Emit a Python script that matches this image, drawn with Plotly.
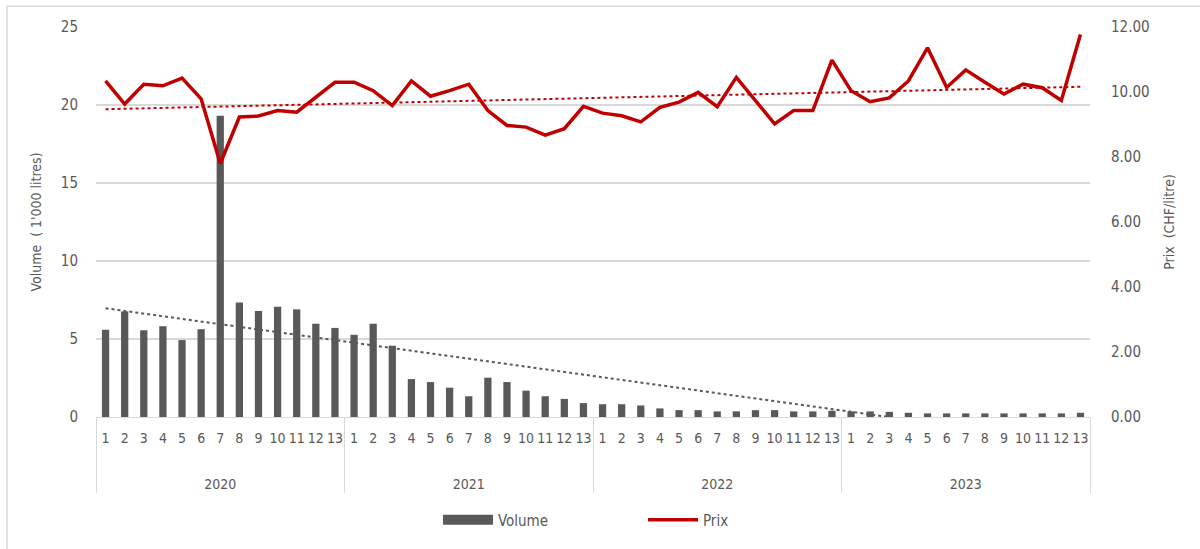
import numpy as np
import plotly.graph_objects as go

years = ["2020", "2021", "2022", "2023"]
months = [str(m) for m in range(1, 14)]

volume = [
    5.60, 6.77, 5.56, 5.82, 4.93, 5.63, 19.31, 7.34, 6.79, 7.06, 6.90, 5.98, 5.71,
    5.27, 5.98, 4.57, 2.43, 2.24, 1.88, 1.33, 2.52, 2.24, 1.69, 1.33, 1.16, 0.89,
    0.82, 0.82, 0.74, 0.55, 0.44, 0.44, 0.36, 0.36, 0.44, 0.44, 0.36, 0.36, 0.40,
    0.36, 0.36, 0.33, 0.27, 0.23, 0.23, 0.23, 0.23, 0.23, 0.23, 0.23, 0.23, 0.27,
]
prix = [
    10.34, 9.63, 10.24, 10.19, 10.43, 9.79, 7.80, 9.23, 9.26, 9.43, 9.38, 9.84, 10.30,
    10.30, 10.04, 9.58, 10.34, 9.87, 10.04, 10.24, 9.43, 8.97, 8.92, 8.67, 8.87, 9.56,
    9.35, 9.27, 9.08, 9.53, 9.69, 9.99, 9.55, 10.45, 9.74, 9.02, 9.43, 9.43, 10.98,
    10.04, 9.70, 9.82, 10.34, 11.36, 10.14, 10.68, 10.30, 9.94, 10.24, 10.13, 9.74, 11.77,
]

# year labels pushed down to leave room below the month row
year_labels = ["\u00a0<br>\u00a0<br>" + y for y in years]
x_year = [y for y in year_labels for _ in months]
x_month = [m for _ in years for m in months]
xcat = [x_year, x_month]

idx = np.arange(len(volume))
vol_fit = np.polyval(np.polyfit(idx, volume, 1), idx)
prix_fit = np.polyval(np.polyfit(idx, prix, 1), idx)

FONT = "DejaVu Sans Condensed, Liberation Sans Narrow, sans-serif"
GREY = "#595959"
RED = "#C00000"
GRID = "#d9d9d9"

W, H = 1200, 549
L, R, T, B = 96, 110, 27, 128
PW, PH = W - L - R, H - T - B

fig = go.Figure()
fig.add_trace(go.Bar(x=xcat, y=volume, name="Volume", marker_color=GREY,
                     marker_line_width=0, yaxis="y", showlegend=False))
fig.add_trace(go.Scatter(x=xcat, y=vol_fit, mode="lines", showlegend=False,
                         line=dict(color=GREY, width=2, dash="dot"), yaxis="y",
                         hoverinfo="skip"))
fig.add_trace(go.Scatter(x=[[x_year[0]], [x_month[0]]], y=[None], mode="lines", name="Volume",
                         line=dict(color=GREY, width=13), yaxis="y"))
fig.add_trace(go.Scatter(x=xcat, y=prix, mode="lines", name="Prix",
                         line=dict(color=RED, width=3.5), yaxis="y2"))
fig.add_trace(go.Scatter(x=xcat, y=prix_fit, mode="lines", showlegend=False,
                         line=dict(color=RED, width=2, dash="dot"), yaxis="y2",
                         hoverinfo="skip"))

fig.update_layout(
    width=W, height=H,
    margin=dict(l=L, r=R, t=T, b=B),
    paper_bgcolor="white", plot_bgcolor="white",
    font=dict(family=FONT, size=14, color=GREY),
    bargap=0.62,
    showlegend=True,
    legend=dict(orientation="h", x=(438 - 96) / PW, xanchor="left", y=-0.264, yanchor="middle",
                font=dict(size=15, color=GREY), itemwidth=50,
                entrywidth=140, entrywidthmode="pixels", tracegroupgap=0),
    xaxis=dict(type="multicategory", showgrid=False, showline=True, linecolor=GRID,
               ticks="", dividercolor=GRID, dividerwidth=1, tickangle=0, automargin=False,
               ticklabelstandoff=8,
               tickfont=dict(size=14, color=GREY)),
    yaxis=dict(range=[0, 25], dtick=5, showgrid=True, gridcolor=GRID, gridwidth=1.5,
               zeroline=False, ticks="", automargin=False, ticklabelstandoff=17,
               title=dict(text="Volume  ( 1'000 litres)", font=dict(size=14, color=GREY), standoff=15),
               tickfont=dict(size=15, color=GREY)),
    yaxis2=dict(range=[0, 12], dtick=2, tickformat=".2f", overlaying="y", side="right",
                showgrid=False, zeroline=False, automargin=False, ticklabelstandoff=20,
                title=dict(text="Prix  (CHF/litre)", font=dict(size=14, color=GREY), standoff=15),
                tickfont=dict(size=15, color=GREY)),
)

fig.add_shape(type="rect", xref="paper", yref="paper",
              x0=(7 - L) / PW, x1=(W + 20 - L) / PW,
              y0=-(H + 20 - T - PH) / PH, y1=(PH + T - 6) / PH,
              line=dict(color=GRID, width=1.5), fillcolor="rgba(0,0,0,0)", layer="below")

fig.write_html("out.html", config={"displayModeBar": False},
               post_script="document.body.style.margin='0';document.body.style.overflow='hidden';")
